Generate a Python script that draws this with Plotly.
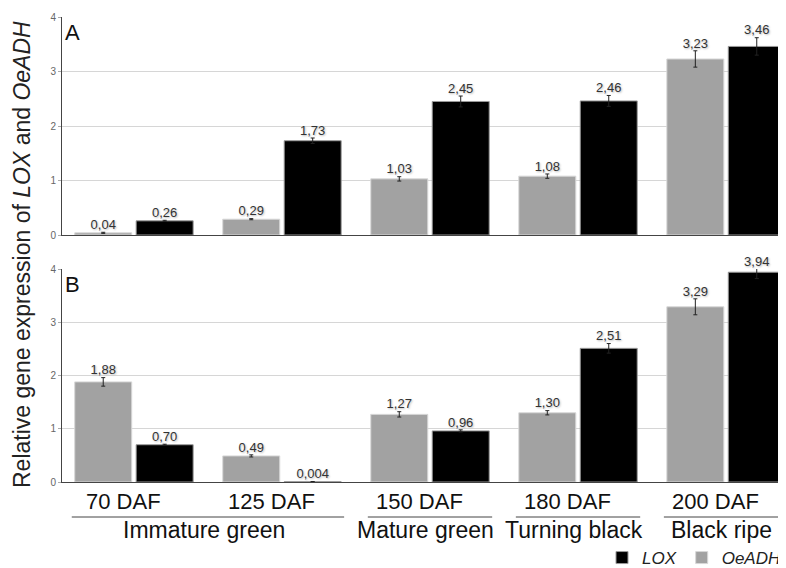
import plotly.graph_objects as go

# ---- data ----
daf_labels = ["70 DAF", "125 DAF", "150 DAF", "180 DAF", "200 DAF"]
stage_names = ["Immature green", "Mature green", "Turning black", "Black ripe"]
stage_first = [0, 2, 3, 4]
stage_last = [1, 2, 3, 4]

a_oeadh = [0.04, 0.29, 1.03, 1.08, 3.23]
a_oeadh_err = [0.01, 0.01, 0.04, 0.04, 0.15]
a_lox = [0.26, 1.73, 2.45, 2.46, 3.46]
a_lox_err = [0.01, 0.05, 0.10, 0.10, 0.16]

b_oeadh = [1.88, 0.49, 1.27, 1.30, 3.29]
b_oeadh_err = [0.08, 0.02, 0.05, 0.04, 0.15]
b_lox = [0.70, 0.004, 0.96, 2.51, 3.94]
b_lox_err = [0.01, 0.005, 0.02, 0.09, 0.12]

y_ticks = [0, 1, 2, 3, 4]

# ---- styling ----
BODY = 8                      # default page margin of the html body
W, H = 786 - BODY, 568 - BODY
FONT = "Liberation Sans, Arial, sans-serif"
GRAY = "#a2a2a2"
BLACK = "#000000"
BAR_W = 0.385
OFF_OE = -0.40
OFF_LOX = 0.015
Y_MAX = max(y_ticks)


def px(x):
    return (x - BODY) / W


def py(y):
    return 1 - (y - BODY) / H


def fmt(v):
    s = ("%.3f" if v < 0.01 else "%.2f") % v
    return s.replace(".", ",")


fig = go.Figure()
x = list(range(len(daf_labels)))

panels = [
    ("x", "y", a_oeadh, a_oeadh_err, a_lox, a_lox_err, True),
    ("x2", "y2", b_oeadh, b_oeadh_err, b_lox, b_lox_err, False),
]

for xa, ya, oe, oe_err, lox, lox_err, show in panels:
    fig.add_trace(go.Bar(
        x=x, y=lox, offset=OFF_LOX, width=BAR_W, name="<i>LOX</i>",
        legendgroup="lox", showlegend=show, xaxis=xa, yaxis=ya,
        marker=dict(color=BLACK, line=dict(color="#9a9a9a", width=1)),
        error_y=dict(type="data", array=lox_err, color="#222", thickness=1, width=2),
    ))
    fig.add_trace(go.Bar(
        x=x, y=oe, offset=OFF_OE, width=BAR_W, name="<i>OeADH</i>",
        legendgroup="oe", showlegend=show, xaxis=xa, yaxis=ya,
        marker=dict(color=GRAY, line=dict(color="#d8d8d8", width=1)),
        error_y=dict(type="data", array=oe_err, color="#222", thickness=1, width=2),
    ))
    for vals, errs, off in ((oe, oe_err, OFF_OE), (lox, lox_err, OFF_LOX)):
        fig.add_trace(go.Scatter(
            x=[i + off + BAR_W / 2 for i in x],
            y=[min(v + e, Y_MAX) for v, e in zip(vals, errs)],
            text=[fmt(v) for v in vals], mode="text", textposition="top center",
            textfont=dict(family=FONT, size=13, color="#333", shadow="1px 1px 2px #bbb"),
            cliponaxis=False,
            showlegend=False, hoverinfo="skip", xaxis=xa, yaxis=ya,
        ))

xcommon = dict(domain=[px(62), px(786)], range=[-0.486, 4.405], showticklabels=False, showgrid=False,
               showline=True, linecolor="#444", linewidth=1, zeroline=False, ticks="",
               automargin=False)
ycommon = dict(range=[0, Y_MAX], tickvals=y_ticks, showgrid=True, gridcolor="#d6d6d6", gridwidth=1,
               showline=True, linecolor="#444", linewidth=1, zeroline=False,
               ticks="outside", ticklen=3, tickcolor="#aaa", automargin=False,
               tickfont=dict(family=FONT, size=10, color="#666"))

fig.update_layout(
    width=W, height=H, margin=dict(l=0, r=0, t=0, b=0, autoexpand=False),
    plot_bgcolor="white", paper_bgcolor="white", barmode="overlay",
    font=dict(family=FONT, color="#222"),
    xaxis=dict(anchor="y", **xcommon),
    xaxis2=dict(anchor="y2", **xcommon),
    yaxis=dict(anchor="x", domain=[py(235), py(17)], **ycommon),
    yaxis2=dict(anchor="x2", domain=[py(482), py(269)], **ycommon),
    legend=dict(orientation="h", x=1, xanchor="right", y=py(558), yanchor="middle",
                font=dict(family=FONT, size=17, color="#222"), bgcolor="rgba(0,0,0,0)",
                traceorder="normal"),
    showlegend=True,
)

ann = []
ann.append(dict(text="Relative gene expression of <i>LOX</i> and <i>OeADH</i>",
                x=px(22), y=py(255), xref="paper", yref="paper", textangle=-90,
                xanchor="center", yanchor="middle",
                showarrow=False, font=dict(family=FONT, size=23, color="#222")))
ann.append(dict(text="A", x=0, y=4, xref="x domain", yref="y", xanchor="left", yanchor="top",
                xshift=1, yshift=-1, showarrow=False, font=dict(family=FONT, size=22, color="#111")))
ann.append(dict(text="B", x=0, y=4, xref="x2 domain", yref="y2", xanchor="left", yanchor="top",
                xshift=1, yshift=-1, showarrow=False, font=dict(family=FONT, size=22, color="#111")))
for i, lab in enumerate(daf_labels):
    ann.append(dict(text=lab, x=i - 0.07, y=py(501), xref="x2", yref="paper",
                    xanchor="center", yanchor="middle",
                    showarrow=False, font=dict(family=FONT, size=22, color="#111")))
shapes = []
for name, f, l in zip(stage_names, stage_first, stage_last):
    ann.append(dict(text=name, x=(f + l) / 2 - 0.03, y=py(530), xref="x2", yref="paper",
                    xanchor="center", yanchor="middle",
                    showarrow=False, font=dict(family=FONT, size=23, color="#111")))
    shapes.append(dict(type="line", xref="x2", yref="paper", x0=f - 0.42, x1=min(l + 0.42, 4.38),
                       y0=py(517), y1=py(517), line=dict(color="#444", width=1)))

fig.update_layout(annotations=ann, shapes=shapes)
fig.write_html("out.html")
